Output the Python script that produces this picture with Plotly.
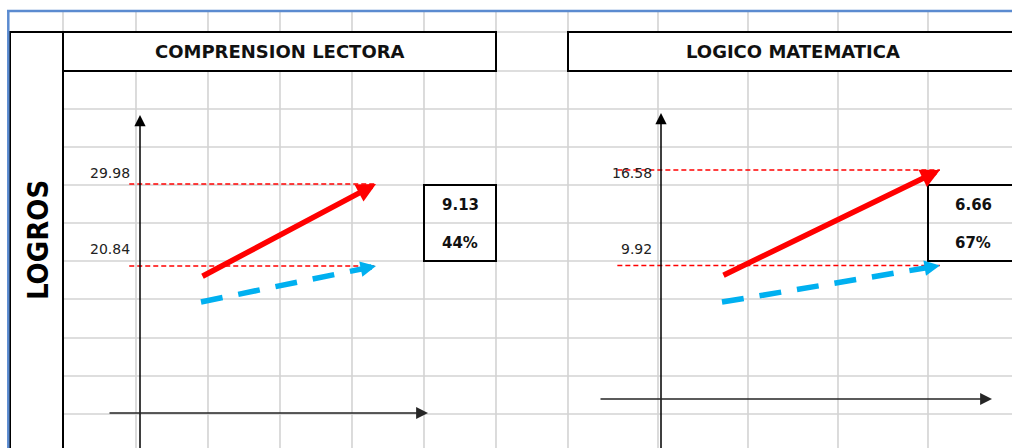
import plotly.graph_objects as go

# ---------------- data ----------------
panel_titles = ["COMPRENSION LECTORA", "LOGICO MATEMATICA"]
logro_final = [29.98, 16.58]      # upper reference value (red arrow end)
logro_inicial = [20.84, 9.92]     # lower reference value (blue arrow end)
red_start = [19.61, 9.19]         # start level of the red arrow
blue_start = [16.83, 7.37]        # start level of the blue dashed arrow
diff_labels = ["9.13", "6.66"]
pct_labels = ["44%", "67%"]
side_label = "LOGROS"

# ---------------- layout constants (pixels of the sheet) ----------------
W, H = 1012, 448
COLS = [63, 136, 208, 280, 352, 424, 496, 568, 658, 748, 838, 928]
ROWS = [32, 71, 109, 147, 185, 223, 261, 299, 338, 376, 414]
GRID = "#d3d3d3"
BLUE_EDGE = "#5b8bd0"
RED = "#ff0000"
CYAN = "#00b0f0"
TXT_FONT = "DejaVu Sans"

panels = [
    dict(xr=[-1.1486, 4.6343], yr=[0.554, 50.489], ref_x0=-0.41,
         title_box=(63, 496), label_right=132, value_box=(424, 496),
         vaxis_x=140, vaxis_tip=115, haxis=(108, 428, 413)),
    dict(xr=[-3.3119, 1.3303], yr=[-2.808, 28.436], ref_x0=-0.48,
         title_box=(568, 1018), label_right=654, value_box=(928, 1018),
         vaxis_x=661, vaxis_tip=113, haxis=(599, 992, 399)),
]
LABEL_ROWS = (185, 261)   # cell bottoms holding the value labels
BOX_Y = (185, 261)

fig = go.Figure()
shapes = []
annotations = []

# sheet gridlines
for r in ROWS:
    shapes.append(dict(type="line", xref="x", yref="y", x0=63, x1=W, y0=r, y1=r,
                       line=dict(color=GRID, width=1.6), layer="below"))
for c in COLS:
    shapes.append(dict(type="line", xref="x", yref="y", x0=c, x1=c, y0=11, y1=H,
                       line=dict(color=GRID, width=1.6), layer="below"))
# side merged cell
shapes.append(dict(type="rect", xref="x", yref="y", x0=10, x1=63, y0=32, y1=H + 5,
                   fillcolor="white", line=dict(color="black", width=2), layer="below"))
# title boxes
for p in panels:
    x0, x1 = p["title_box"]
    shapes.append(dict(type="rect", xref="x", yref="y", x0=x0, x1=x1, y0=32, y1=71,
                       fillcolor="white", line=dict(color="black", width=2), layer="below"))
# blue sheet edges
shapes.append(dict(type="line", xref="x", yref="y", x0=7, x1=W, y0=11, y1=11,
                   line=dict(color=BLUE_EDGE, width=2.5), layer="below"))
shapes.append(dict(type="line", xref="x", yref="y", x0=8.3, x1=8.3, y0=10, y1=H,
                   line=dict(color=BLUE_EDGE, width=2.5), layer="below"))

for i, p in enumerate(panels):
    xa = "x%d" % (i + 2)
    ya = "y%d" % (i + 2)
    # value box
    bx0, bx1 = p["value_box"]
    shapes.append(dict(type="rect", xref="x", yref="y", x0=bx0, x1=bx1, y0=BOX_Y[0], y1=BOX_Y[1],
                       line=dict(color="black", width=2), layer="above"))
    # dashed reference lines
    for v in (logro_final[i], logro_inicial[i]):
        fig.add_trace(go.Scatter(x=[p["ref_x0"], 1], y=[v, v], mode="lines", xaxis=xa, yaxis=ya,
                                 line=dict(color=RED, width=1.5, dash="5px,3px"),
                                 hoverinfo="skip", showlegend=False))
    # blue dashed arrow body
    fig.add_trace(go.Scatter(x=[0, 1], y=[blue_start[i], logro_inicial[i]], mode="lines",
                             xaxis=xa, yaxis=ya,
                             line=dict(color=CYAN, width=5.5, dash="22px,16px", backoff=8),
                             hoverinfo="skip", showlegend=False))
    # red solid arrow
    annotations.append(dict(x=1, y=logro_final[i], xref=xa, yref=ya,
                            ax=0, ay=red_start[i], axref=xa, ayref=ya, text="",
                            showarrow=True, arrowhead=2, arrowsize=0.7, arrowwidth=5.5,
                            arrowcolor=RED))
    # blue arrow head, oriented along the dashed line
    ppx = W / (p["xr"][1] - p["xr"][0])
    ppy = H / (p["yr"][1] - p["yr"][0])
    sx = (1 - 0) * ppx
    sy = -(logro_inicial[i] - blue_start[i]) * ppy
    n = (sx ** 2 + sy ** 2) ** 0.5
    L = 24
    annotations.append(dict(x=1, y=logro_inicial[i], xref=xa, yref=ya,
                            ax=-sx / n * L, ay=-sy / n * L, text="",
                            showarrow=True, arrowhead=2, arrowsize=3.1, arrowwidth=1,
                            arrowcolor=CYAN))
    # value labels in the cells left of the vertical axis
    for v, rb in zip((logro_final[i], logro_inicial[i]), LABEL_ROWS):
        annotations.append(dict(x=p["label_right"], y=rb - 2, xref="x", yref="y",
                                xanchor="right", yanchor="bottom", showarrow=False,
                                text="%.2f" % v,
                                font=dict(family=TXT_FONT, size=14, color="#222222")))
    # box texts
    cx = (bx0 + min(bx1, W + 6)) / 2
    annotations.append(dict(x=cx, y=205, xref="x", yref="y", showarrow=False,
                            text="<b>%s</b>" % diff_labels[i],
                            font=dict(family=TXT_FONT, size=15, color="#111111")))
    annotations.append(dict(x=cx, y=243, xref="x", yref="y", showarrow=False,
                            text="<b>%s</b>" % pct_labels[i],
                            font=dict(family=TXT_FONT, size=15, color="#111111")))
    # title
    tx0, tx1 = p["title_box"]
    annotations.append(dict(x=(tx0 + tx1) / 2, y=51.5, xref="x", yref="y", showarrow=False,
                            text="<b>%s</b>" % panel_titles[i],
                            font=dict(family=TXT_FONT, size=18, color="#111111")))
    # sketch axes
    vx = p["vaxis_x"]
    annotations.append(dict(x=vx, y=p["vaxis_tip"], xref="x", yref="y",
                            ax=vx, ay=H + 10, axref="x", ayref="y", text="",
                            showarrow=True, arrowhead=2, arrowsize=1.5, arrowwidth=1.5,
                            arrowcolor="black"))
    hx0, hx1, hy = p["haxis"]
    annotations.append(dict(x=hx1, y=hy, xref="x", yref="y",
                            ax=hx0, ay=hy, axref="x", ayref="y", text="",
                            showarrow=True, arrowhead=2, arrowsize=1.4, arrowwidth=1.7,
                            arrowcolor="#262626"))

annotations.append(dict(x=38, y=240, xref="x", yref="y", showarrow=False, textangle=-90,
                        text="<b>%s</b>" % side_label,
                        font=dict(family="DejaVu Sans Condensed, DejaVu Sans, sans-serif",
                                  size=29, color="#000000")))

layout = dict(
    width=W, height=H, autosize=False,
    margin=dict(l=0, r=0, t=0, b=0),
    paper_bgcolor="white", plot_bgcolor="white",
    hovermode=False, showlegend=False,
    xaxis=dict(range=[0, W], visible=False, fixedrange=True),
    yaxis=dict(range=[H, 0], visible=False, fixedrange=True),
    shapes=shapes, annotations=annotations,
)
for i, p in enumerate(panels):
    layout["xaxis%d" % (i + 2)] = dict(range=p["xr"], overlaying="x", visible=False, fixedrange=True)
    layout["yaxis%d" % (i + 2)] = dict(range=p["yr"], overlaying="y", visible=False, fixedrange=True)
fig.update_layout(**layout)

fig.write_html("out.html", config={"displayModeBar": False, "staticPlot": True},
               post_script="document.body.style.margin='0';document.body.style.overflow='hidden';")
